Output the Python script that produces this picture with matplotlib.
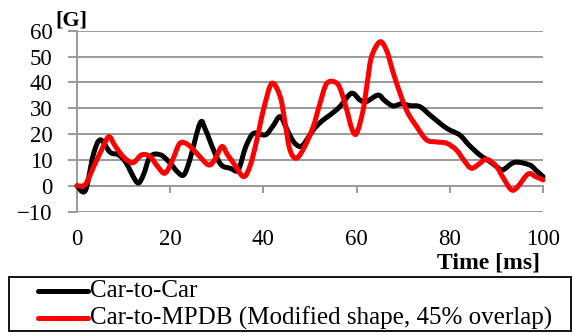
import matplotlib
matplotlib.use("Agg")
import matplotlib.pyplot as plt
from matplotlib.lines import Line2D
from matplotlib.patches import PathPatch, Rectangle
from matplotlib.path import Path

plt.rcParams['font.family'] = ['Liberation Serif', 'DejaVu Serif']

# deceleration pulses, time [ms] vs acceleration [G]
t_c2c = [0, 1.8, 3.5, 5, 7.1, 8.9, 10.5, 12.9, 14.2, 15.7, 17.9, 20, 21.5, 22.9, 24.2,
         26.4, 27.5, 29.5, 31, 32.9, 34.6, 36.2, 37.9, 40.4, 42, 43.6, 45, 46.5, 47.9,
         49, 50.7, 52.5, 54.3, 56.4, 58.9, 60.7, 62.1, 64.6, 66, 67.8, 69.6, 71.5, 73.6,
         76, 79.3, 82.1, 84, 86.4, 88.6, 90, 91.4, 93.9, 97.1, 98.5, 100]
g_c2c = [0, -1.8, 12, 17.8, 13, 12, 9, 1.3, 4, 11.3, 12, 8.8, 5.5, 4.2, 10,
         24.2, 22, 13, 8, 6.8, 6.2, 15, 20.3, 19.7, 23, 26.8, 22, 17, 15.2,
         17, 21.6, 25, 27.4, 30.6, 35.8, 33.2, 32.6, 35.1, 33, 30.9, 31.7, 31, 30.6,
         27, 22.3, 19.7, 16, 12, 9.4, 7.5, 6.2, 9.1, 8.1, 6, 3.6]

t_mpdb = [0, 1.8, 3.6, 5.3, 6.8, 8, 9.3, 10.7, 12.1, 13.9, 15.7, 17.3, 18.9, 20.5, 22.1,
          23.9, 26, 28.2, 29.5, 31.1, 32.3, 33.6, 35.7, 37.1, 38.5, 40, 41.8, 43.6, 44.6,
          45.7, 47.1, 48.8, 50.7, 52, 53.6, 55.7, 56.8, 57.9, 59, 60, 61.4, 62.3, 63.2,
          65, 66.4, 67.5, 68.6, 70.7, 72.9, 75, 77, 79.3, 81.4, 83, 84.6, 86.3, 87.9,
          90, 91.5, 93.2, 94.5, 96.8, 98.5, 100]
g_mpdb = [0, 0.6, 7.5, 14, 19, 16, 12.6, 10, 9, 12, 11.3, 7.5, 4.9, 10, 16.5,
          15.8, 12, 8.1, 10, 15.2, 12, 8.8, 3.6, 7.5, 17, 29.3, 39.6, 34.5, 25,
          13.9, 10.7, 15, 22.9, 31, 39.6, 39.8, 36, 29.3, 22, 20.3, 29.3, 40, 49.9,
          55.7, 52.5, 46, 39.6, 29.3, 22.9, 17.8, 17, 16.5, 13.9, 10, 6.8, 8.5, 10.3,
          7.5, 3, -1.5, -0.5, 4.6, 3.5, 2.3]

labels = ["Car-to-Car", "Car-to-MPDB (Modified shape, 45% overlap)"]
colors = ['black', '#ff0000']
x_ticks = [0, 20, 40, 60, 80, 100]
y_ticks = [-10, 0, 10, 20, 30, 40, 50, 60]

grey = '#9a9a9a'


def smooth_path(xs, ys, k=1 / 6):
    # cubic Bezier segments through every point (Excel-like smoothed line)
    verts = [(xs[0], ys[0])]
    codes = [Path.MOVETO]
    n = len(xs)
    for i in range(n - 1):
        x0, y0 = xs[max(i - 1, 0)], ys[max(i - 1, 0)]
        x1, y1 = xs[i], ys[i]
        x2, y2 = xs[i + 1], ys[i + 1]
        x3, y3 = xs[min(i + 2, n - 1)], ys[min(i + 2, n - 1)]
        c1 = (x1 + (x2 - x0) * k, y1 + (y2 - y0) * k)
        c2 = (x2 - (x3 - x1) * k, y2 - (y3 - y1) * k)
        verts += [c1, c2, (x2, y2)]
        codes += [Path.CURVE4] * 3
    return Path(verts, codes)


fig = plt.figure(figsize=(5.72, 3.35), dpi=100)
ax = fig.add_axes([0.1346, 0.368, 0.8147, 0.5404])

for xs, ys, c, z in [(t_c2c, g_c2c, colors[0], 3), (t_mpdb, g_mpdb, colors[1], 4)]:
    ax.add_patch(PathPatch(smooth_path(xs, ys), facecolor='none', edgecolor=c,
                           lw=3.6, joinstyle='round', capstyle='round',
                           zorder=z, clip_on=False))

ax.set_xlim(0, 100)
ax.set_ylim(-10, 60)
ax.set_xticks(x_ticks)
ax.set_yticks(y_ticks)
ax.grid(axis='y', color=grey, lw=1.4)
ax.set_axisbelow(True)

for s in ['top', 'right']:
    ax.spines[s].set_visible(False)
ax.spines['left'].set_color(grey)
ax.spines['left'].set_linewidth(1.4)
ax.spines['bottom'].set_position(('data', 0))
ax.spines['bottom'].set_color(grey)
ax.spines['bottom'].set_linewidth(1.4)

ax.tick_params(axis='y', direction='out', length=6.5, width=1.4, color=grey,
               pad=11, labelsize=16.5)
ax.tick_params(axis='x', direction='out', length=5, width=1.4, color=grey,
               pad=26, labelsize=16.5)

fig.text(55 / 572, 1 - 20 / 335, "[G]", fontsize=16, fontweight='bold',
         ha='left', va='center')
fig.text(540 / 572, 1 - 263 / 335, "Time [ms]", fontsize=17, fontweight='bold',
         ha='right', va='center')

# legend box below the plot
W, H = 572, 335
fig.patches.append(Rectangle((9 / W, 1 - 331 / H), 562 / W, 54 / H,
                             transform=fig.transFigure, facecolor='white',
                             edgecolor='black', lw=1.3))
for i, (lab, c) in enumerate(zip(labels, colors)):
    yy = 1 - (291 + 27 * i) / H
    fig.lines.append(Line2D([38 / W, 88 / W], [yy, yy], transform=fig.transFigure,
                            color=c, lw=3.6, solid_capstyle='round'))
    fig.text(90 / W, yy, lab, fontsize=18, ha='left', va='center')

fig.savefig("out.png", dpi=100)
